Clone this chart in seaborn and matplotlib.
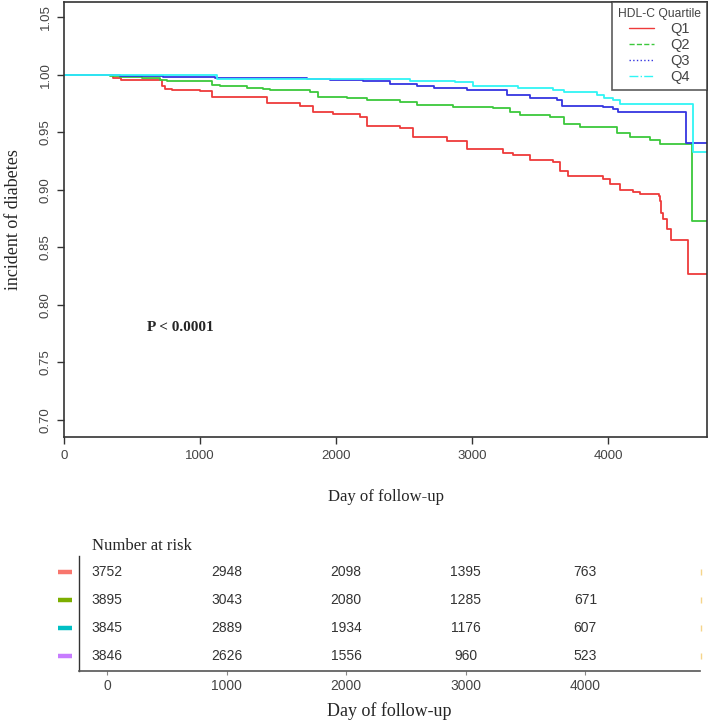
import matplotlib
matplotlib.use("Agg")
import matplotlib.pyplot as plt
from matplotlib.lines import Line2D
import seaborn as sns
import pandas as pd
import numpy as np

# Kaplan-Meier style curves (day, survival)
q1_days = [0, 360, 420, 718, 740, 790, 1000, 1086, 1490, 1735, 1831, 1980, 2176, 2226, 2471, 2566,
           2813, 2960, 3228, 3302, 3426, 3596, 3647, 3706, 3963, 4015, 4088, 4184, 4235, 4372,
           4380, 4390, 4398, 4433, 4458, 4585, 4725]
q1_surv = [1.000, 0.9971, 0.9957, 0.990, 0.9876, 0.9866, 0.9855, 0.981, 0.9754, 0.973, 0.9672, 0.966,
           0.9637, 0.9556, 0.9536, 0.946, 0.942, 0.9357, 0.932, 0.930, 0.926, 0.924, 0.9167, 0.9124,
           0.9095, 0.9052, 0.900, 0.898, 0.8962, 0.8946, 0.890, 0.880, 0.8744, 0.866, 0.8564,
           0.8271, 0.8271]
q2_days = [0, 338, 412, 571, 706, 755, 1086, 1147, 1343, 1463, 1515, 1612, 1809, 1868, 2079, 2226,
           2471, 2593, 2860, 3154, 3279, 3353, 3574, 3672, 3794, 4064, 4162, 4309, 4382, 4614, 4725]
q2_surv = [1.000, 0.9987, 0.9983, 0.9971, 0.9957, 0.9945, 0.9913, 0.9898, 0.9884, 0.9876, 0.987,
           0.9865, 0.9852, 0.981, 0.9797, 0.978, 0.976, 0.974, 0.9724, 0.971, 0.968, 0.9652, 0.963,
           0.957, 0.9545, 0.9498, 0.9463, 0.9435, 0.9398, 0.8727, 0.8727]
q3_days = [0, 412, 730, 1110, 1784, 1956, 2199, 2397, 2593, 2716, 2960, 3083, 3255, 3426, 3622,
           3659, 3963, 4037, 4074, 4569, 4725]
q3_surv = [1.000, 0.9988, 0.998, 0.9974, 0.9962, 0.9952, 0.9942, 0.9922, 0.9904, 0.9887, 0.987,
           0.9865, 0.9826, 0.9797, 0.9777, 0.973, 0.9719, 0.970, 0.968, 0.9404, 0.9404]
q4_days = [0, 1123, 2544, 2875, 3007, 3338, 3596, 3672, 3917, 3965, 4037, 4088, 4622, 4725]
q4_surv = [1.000, 0.9965, 0.995, 0.9933, 0.9898, 0.9887, 0.987, 0.9846, 0.9826, 0.9797, 0.978,
           0.9745, 0.9326, 0.9326]

groups = ["Q1", "Q2", "Q3", "Q4"]
line_colors = ["#EE3A3A", "#3CC83C", "#3535E0", "#30F5F5"]
legend_styles = ["-", "--", ":", "-."]

# number at risk table
risk_times = [0, 1000, 2000, 3000, 4000]
risk_q1 = [3752, 2948, 2098, 1395, 763]
risk_q2 = [3895, 3043, 2080, 1285, 671]
risk_q3 = [3845, 2889, 1934, 1176, 607]
risk_q4 = [3846, 2626, 1556, 960, 523]
risk_colors = ["#F8766D", "#7CAE00", "#00BFC4", "#C77CFF"]

frames = []
for g, d, s in zip(groups, [q1_days, q2_days, q3_days, q4_days], [q1_surv, q2_surv, q3_surv, q4_surv]):
    frames.append(pd.DataFrame({"day": d, "surv": s, "group": g}))
km = pd.concat(frames, ignore_index=True)

sns.set_style("white")
plt.rcParams["font.family"] = ["Liberation Sans", "DejaVu Sans"]
serif = ["Liberation Serif", "DejaVu Serif"]
tick_gray = "#444444"

fig = plt.figure(figsize=(7.12, 7.22), dpi=100)

# ---------- main KM plot ----------
ax = fig.add_axes([0.0899, 0.3947, 0.9031, 0.6025])
sns.lineplot(data=km, x="day", y="surv", hue="group", palette=dict(zip(groups, line_colors)),
             drawstyle="steps-post", estimator=None, errorbar=None, linewidth=1.3,
             legend=False, ax=ax)
ax.set_xlim(0, 4725)
ax.set_ylim(0.6852, 1.0632)
ax.set_xticks([0, 1000, 2000, 3000, 4000])
ax.set_yticks([0.70, 0.75, 0.80, 0.85, 0.90, 0.95, 1.00, 1.05])
ax.set_yticklabels([f"{v:.2f}" for v in ax.get_yticks()], rotation=90, va="center")
ax.tick_params(direction="out", length=5, width=1, color="#333333", labelcolor=tick_gray,
               labelsize=9.5, left=True, bottom=True, pad=4)
for sp in ax.spines.values():
    sp.set_color("#333333")
    sp.set_linewidth(1.2)
ax.set_xlabel("Day of follow-up", family=serif, fontsize=12, labelpad=20)
ax.set_ylabel("incident of diabetes", family=serif, fontsize=13)
ax.yaxis.set_label_coords(-0.066, 0.5)
ax.text(610, 0.780, "P < 0.0001", family=serif, fontweight="bold", fontsize=11, va="center")

handles = [Line2D([], [], color=c, linestyle=ls, linewidth=1.0) for c, ls in zip(line_colors, legend_styles)]
leg = ax.legend(handles, groups, title="HDL-C Quartile", loc="upper right", bbox_to_anchor=(1, 1),
                borderaxespad=0, fancybox=False, frameon=True, fontsize=10.5, title_fontsize=8.7,
                handlelength=1.7, handletextpad=1.1, labelspacing=0.13, borderpad=0.42)
leg.get_frame().set_edgecolor("#333333")
leg.get_frame().set_linewidth(1.2)
for t in leg.get_texts():
    t.set_color(tick_gray)
leg.get_title().set_color(tick_gray)

# ---------- number at risk table ----------
tx = fig.add_axes([0.111, 0.0706, 0.872, 0.1594])
tx.set_xlim(-234, 4958)
tx.set_ylim(4.55, 0.41)
risk = [risk_q1, risk_q2, risk_q3, risk_q4]
for i, (row, col) in enumerate(zip(risk, risk_colors)):
    for t, n in zip(risk_times, row):
        tx.text(t, i + 1, str(n), ha="center", va="center", fontsize=10, color="#333333")
    # colored swatch left of the table
    tx.plot([-0.034, -0.012], [i + 1, i + 1], color=col, linewidth=3.2, solid_capstyle="butt",
            transform=tx.get_yaxis_transform(), clip_on=False)
    tx.plot([1.002], [i + 1], marker="|", color="#F5D58A", markersize=4,
            transform=tx.get_yaxis_transform(), clip_on=False)
tx.set_xticks(risk_times)
tx.set_yticks([])
tx.tick_params(axis="x", direction="out", length=3, color="#888888", labelcolor=tick_gray,
               labelsize=10, bottom=True, pad=3)
for s in ["top", "right"]:
    tx.spines[s].set_visible(False)
tx.spines["left"].set_color("#333333")
tx.spines["bottom"].set_color("#555555")
tx.spines["left"].set_linewidth(1.0)
tx.spines["bottom"].set_linewidth(1.2)
tx.set_xlabel("Day of follow-up", family=serif, fontsize=13, labelpad=6)
tx.text(0.021, 1.09, "Number at risk", transform=tx.transAxes, family=serif, fontsize=12,
        va="center", ha="left")

fig.savefig("out.png", dpi=100)
